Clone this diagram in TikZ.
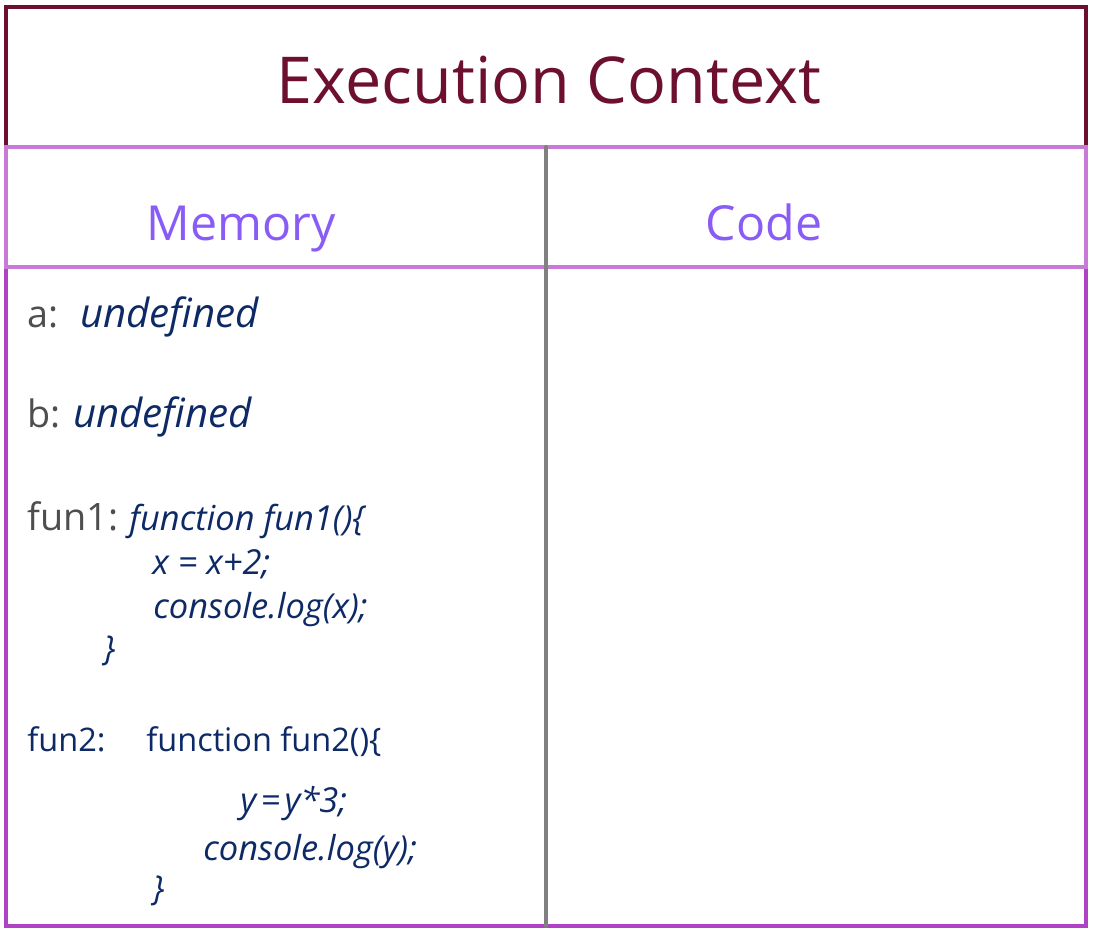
\documentclass[tikz,border=0pt]{standalone}
\usepackage{fontspec}
\setmainfont{Open Sans}
\usetikzlibrary{positioning}
\definecolor{ctxred}{HTML}{6D0F2E}
\definecolor{headlilac}{HTML}{C97AD9}
\definecolor{bodypurple}{HTML}{B043C4}
\definecolor{headtext}{HTML}{8A5CF6}
\definecolor{keygray}{HTML}{4E4E4E}
\definecolor{valnavy}{HTML}{0D2A66}
\tikzset{frame/.style={line width=2.3pt},
  title/.style={anchor=base,inner sep=0pt,font=\fontsize{36.8}{44}\selectfont,text=ctxred},
  head/.style={anchor=base,inner sep=0pt,font=\fontsize{27.5}{32}\selectfont,text=headtext},
  key/.style={anchor=base west,inner sep=0pt,font=\fontsize{21.5}{25}\selectfont,text=keygray},
  undef/.style={key,font=\fontsize{22.9}{27}\selectfont\itshape,text=valnavy},
  val/.style={anchor=base west,inner sep=0pt,font=\fontsize{19.6}{23}\selectfont\itshape,text=valnavy},
  plain/.style={val,font=\fontsize{18.5}{22}\selectfont}}

\begin{document}
\begin{tikzpicture}[x=0.02cm,y=-0.02cm]
\useasboundingbox (0,0) rectangle (1096,940);
% frames
\draw[frame,bodypurple] (6,267) -- (6,926) -- (1086,926) -- (1086,267);
\draw[frame,ctxred] (6,147) -- (6,7) -- (1086,7) -- (1086,147);
\draw[frame,headlilac] (6,147) rectangle (1086,267);
\draw[frame,gray,line cap=round] (546,147) -- (546,926);
% headings
\node[title] (ctx) at (549,103) {Execution Context};
\node[head] (mem) at (241,240) {Memory};
\node[head] (code) at (764,240) {Code};
% memory entries
\node[key] (a) at (27,327) {a:};
\node[undef] (aval) at (80,327) {undefined};
\node[key] (b) at (27,427) {b:};
\node[undef] (bval) at (73,427) {undefined};
\node[key] (f1) at (27,530) {fun1:};
\node[val] (f1a) at (129,530) {function fun1()\{};
\node[val] (f1b) at (152,574) {x = x+2;};
\node[val] (f1c) at (153,618) {console.log(x);};
\node[val] (f1d) at (103,660) {\}};
\node[plain] (f2) at (27,751) {fun2:};
\node[plain] (f2a) at (146,751) {function fun2()\{};
\node[val] (f2b) at (240,812) {y\kern2.5pt=\kern2.5pt y*3;};
\node[val] (f2c) at (203,860) {console.log(y);};
\node[val] (f2d) at (152,900) {\}};
\end{tikzpicture}
\end{document}
